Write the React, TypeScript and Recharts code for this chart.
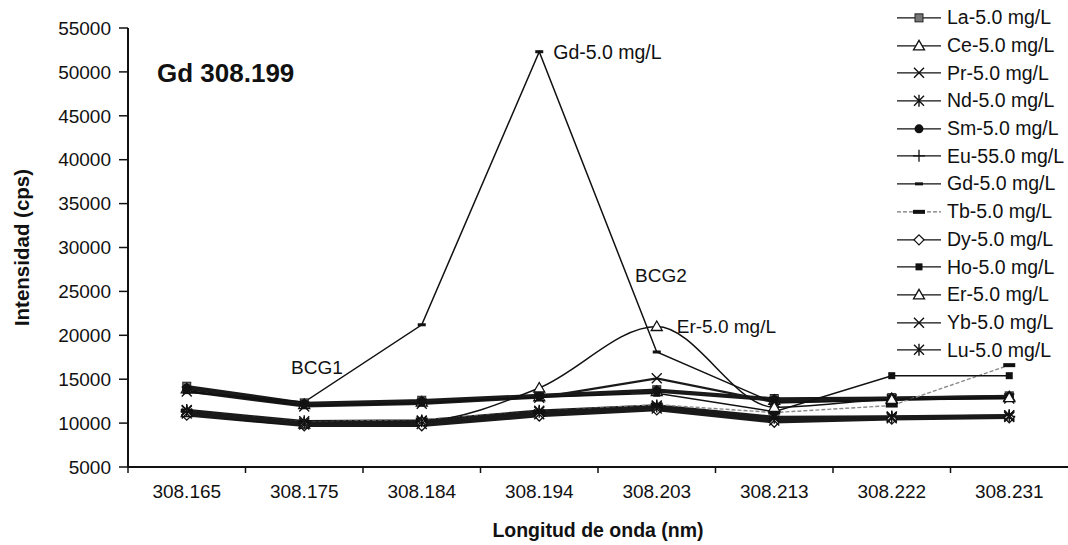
import React from "react";
import { LineChart, Line, XAxis, YAxis, Legend, ReferenceDot } from "recharts";

document.body.style.margin = "0";

// wavelength categories (nm)
const wavelengths = ["308.165", "308.175", "308.184", "308.194", "308.203", "308.213", "308.222", "308.231"];

// intensities (cps) per element
const la = [14200, 12300, 12600, 13200, 13800, 12800, 12900, 13100];
const ce = [13900, 12100, 12400, 13000, 13600, 12600, 12800, 13000];
const pr = [13600, 11900, 12200, 12900, 15100, 12400, 12700, 12800];
const nd = [11500, 10200, 10300, 11400, 12000, 10700, 10750, 10900];
const sm = [14000, 12200, 12500, 13100, 13700, 12700, 12850, 13050];
const eu = [11300, 10000, 10100, 11200, 11800, 10500, 10600, 10750];
const gd = [13500, 12400, 21200, 52300, 18100, 12300, 12600, 12900];
const tb = [11400, 10100, 10400, 11300, 12100, 11200, 12000, 16600];
const dy = [10900, 9700, 9700, 10800, 11500, 10100, 10450, 10600];
const ho = [13700, 12000, 12300, 12950, 13400, 11300, 15400, 15400];
const er = [11200, 9900, 10200, 14000, 21000, 11800, 12700, 12900];
const yb = [11100, 9850, 9900, 11000, 11650, 10300, 10550, 10700];
const lu = [11400, 10050, 10200, 11300, 11900, 10600, 10700, 10850];

const yTicks = [5000, 10000, 15000, 20000, 25000, 30000, 35000, 40000, 45000, 50000, 55000];

const FONT = '"Liberation Sans", Arial, sans-serif';
const W = 1068;
const H = 545;
const PLOT_LEFT = 128;
const HALF_BAND = (W - PLOT_LEFT) / wavelengths.length / 2;

type Shape =
  | "square" | "triangle" | "x" | "star" | "circle" | "plus"
  | "dash" | "longdash" | "diamond" | "smallsquare";

type Series = {
  key: string;
  name: string;
  values: number[];
  shape: Shape;
  width: number;
  color: string;
  dash?: string;
  curve?: "linear" | "monotone";
};

const series: Series[] = [
  { key: "La", name: "La-5.0 mg/L", values: la, shape: "square", width: 2.5, color: "#1a1a1a" },
  { key: "Ce", name: "Ce-5.0 mg/L", values: ce, shape: "triangle", width: 2.5, color: "#1a1a1a" },
  { key: "Pr", name: "Pr-5.0 mg/L", values: pr, shape: "x", width: 2.2, color: "#1a1a1a" },
  { key: "Nd", name: "Nd-5.0 mg/L", values: nd, shape: "star", width: 2.5, color: "#1a1a1a" },
  { key: "Sm", name: "Sm-5.0 mg/L", values: sm, shape: "circle", width: 2.5, color: "#1a1a1a" },
  { key: "Eu", name: "Eu-55.0 mg/L", values: eu, shape: "plus", width: 2.5, color: "#1a1a1a" },
  { key: "Gd", name: "Gd-5.0 mg/L", values: gd, shape: "dash", width: 1.5, color: "#111" },
  { key: "Tb", name: "Tb-5.0 mg/L", values: tb, shape: "longdash", width: 1.4, color: "#8a8a8a", dash: "4 2" },
  { key: "Dy", name: "Dy-5.0 mg/L", values: dy, shape: "diamond", width: 2.5, color: "#1a1a1a" },
  { key: "Ho", name: "Ho-5.0 mg/L", values: ho, shape: "smallsquare", width: 1.5, color: "#111" },
  { key: "Er", name: "Er-5.0 mg/L", values: er, shape: "triangle", width: 1.5, color: "#111", curve: "monotone" },
  { key: "Yb", name: "Yb-5.0 mg/L", values: yb, shape: "x", width: 2.5, color: "#1a1a1a" },
  { key: "Lu", name: "Lu-5.0 mg/L", values: lu, shape: "star", width: 2.5, color: "#1a1a1a" },
];

const data = wavelengths.map((wl, i) => {
  const row: Record<string, string | number> = { wl };
  series.forEach((s) => {
    row[s.key] = s.values[i];
  });
  return row;
});

function Marker({ shape, cx, cy }: { shape: Shape; cx: number; cy: number }) {
  const k = "#111";
  switch (shape) {
    case "square":
      return <rect x={cx - 4} y={cy - 4} width={8} height={8} fill="#777" stroke="#222" strokeWidth={1} />;
    case "triangle":
      return (
        <path d={`M${cx},${cy - 5.5} L${cx + 5.5},${cy + 4} L${cx - 5.5},${cy + 4} Z`} fill="#fff" stroke={k} strokeWidth={1.3} />
      );
    case "x":
      return (
        <path d={`M${cx - 5},${cy - 5} L${cx + 5},${cy + 5} M${cx + 5},${cy - 5} L${cx - 5},${cy + 5}`} stroke={k} strokeWidth={1.4} />
      );
    case "star":
      return (
        <path
          d={`M${cx - 5},${cy - 5} L${cx + 5},${cy + 5} M${cx + 5},${cy - 5} L${cx - 5},${cy + 5} M${cx},${cy - 6} L${cx},${cy + 6}`}
          stroke={k}
          strokeWidth={1.4}
        />
      );
    case "circle":
      return <circle cx={cx} cy={cy} r={4.5} fill={k} />;
    case "plus":
      return <path d={`M${cx},${cy - 6} L${cx},${cy + 6} M${cx - 6},${cy} L${cx + 6},${cy}`} stroke={k} strokeWidth={1.3} />;
    case "dash":
      return <rect x={cx - 4} y={cy - 1.5} width={8} height={3} fill={k} />;
    case "longdash":
      return <rect x={cx - 6} y={cy - 2} width={12} height={4} fill={k} />;
    case "diamond":
      return (
        <path d={`M${cx},${cy - 5} L${cx + 5},${cy} L${cx},${cy + 5} L${cx - 5},${cy} Z`} fill="#fff" stroke={k} strokeWidth={1.3} />
      );
    case "smallsquare":
      return <rect x={cx - 3.5} y={cy - 3.5} width={7} height={7} fill={k} />;
  }
  return null;
}

function LegendList() {
  const rowH = 27.7;
  return (
    <div style={{ fontFamily: FONT, fontSize: 19.5, color: "#111" }}>
      {series.map((s) => (
        <div key={s.key} style={{ display: "flex", alignItems: "center", height: rowH, whiteSpace: "nowrap" }}>
          <svg width={50} height={rowH} style={{ flex: "none" }}>
            <line
              x1={0}
              x2={44}
              y1={rowH / 2}
              y2={rowH / 2}
              stroke={s.dash ? "#777" : "#111"}
              strokeWidth={1.3}
              strokeDasharray={s.dash}
            />
            <Marker shape={s.shape} cx={22} cy={rowH / 2} />
          </svg>
          <span>{s.name}</span>
        </div>
      ))}
    </div>
  );
}

function WaveTick(props: any) {
  const { x, y, payload } = props;
  return (
    <g>
      <line x1={x - HALF_BAND} x2={x - HALF_BAND} y1={y} y2={y + 6} stroke="#111" strokeWidth={1.5} />
      <text x={x} y={y + 31} textAnchor="middle" fontSize={19} fontFamily={FONT} fill="#111">
        {payload.value}
      </text>
    </g>
  );
}

const overlayText: React.CSSProperties = {
  position: "absolute",
  fontFamily: FONT,
  color: "#111",
  lineHeight: 1,
  whiteSpace: "nowrap",
};

export default function App() {
  return (
    <div style={{ position: "relative", width: W, height: H, background: "#fff", overflow: "hidden" }}>
      <LineChart width={W} height={H} data={data} margin={{ top: 28, right: 0, bottom: 48, left: 18 }}>
        <XAxis
          dataKey="wl"
          padding={{ left: HALF_BAND, right: HALF_BAND }}
          interval={0}
          tickLine={false}
          tickSize={0}
          tickMargin={0}
          height={30}
          axisLine={{ stroke: "#111", strokeWidth: 2 }}
          tick={<WaveTick />}
          label={{
            value: "Longitud de onda (nm)",
            position: "bottom",
            offset: 26,
            style: { fontFamily: FONT, fontSize: 19.5, fontWeight: 700, fill: "#111" },
          }}
        />
        <YAxis
          width={110}
          domain={[5000, 55000]}
          ticks={yTicks}
          interval={0}
          allowDataOverflow
          tickSize={9}
          tickMargin={8}
          axisLine={{ stroke: "#111", strokeWidth: 2 }}
          tickLine={{ stroke: "#111", strokeWidth: 1.5 }}
          tick={{ fontFamily: FONT, fontSize: 19, fill: "#111" }}
          label={{
            value: "Intensidad (cps)",
            angle: -90,
            position: "insideLeft",
            offset: 4,
            style: { textAnchor: "middle", fontFamily: FONT, fontSize: 20.5, fontWeight: 700, fill: "#111" },
          }}
        />
        <Legend
          layout="vertical"
          align="center"
          verticalAlign="middle"
          content={() => <LegendList />}
          wrapperStyle={{ position: "absolute", top: 4, left: 897, width: 171 }}
        />
        {series.map((s) => (
          <Line
            key={s.key}
            dataKey={s.key}
            name={s.name}
            type={s.curve ?? "linear"}
            stroke={s.color}
            strokeWidth={s.width}
            strokeDasharray={s.dash}
            isAnimationActive={false}
            dot={(p: any) => (
              <g key={`${s.key}-${p.index}`}>
                <Marker shape={s.shape} cx={p.cx} cy={p.cy} />
              </g>
            )}
            activeDot={false}
          />
        ))}
        <ReferenceDot
          x={wavelengths[3]}
          y={gd[3]}
          r={0}
          fill="none"
          stroke="none"
          label={{ value: "Gd-5.0 mg/L", position: "right", offset: 14, style: { fontFamily: FONT, fontSize: 19.5, fill: "#111" } }}
        />
        <ReferenceDot
          x={wavelengths[4]}
          y={er[4]}
          r={0}
          fill="none"
          stroke="none"
          label={{ value: "Er-5.0 mg/L", position: "right", offset: 20, style: { fontFamily: FONT, fontSize: 19, fill: "#111" } }}
        />
      </LineChart>
      <div style={{ ...overlayText, left: 157, top: 60, fontSize: 26, fontWeight: 700 }}>Gd 308.199</div>
      <div style={{ ...overlayText, left: 291, top: 358, fontSize: 19 }}>BCG1</div>
      <div style={{ ...overlayText, left: 635, top: 266, fontSize: 19 }}>BCG2</div>
    </div>
  );
}
